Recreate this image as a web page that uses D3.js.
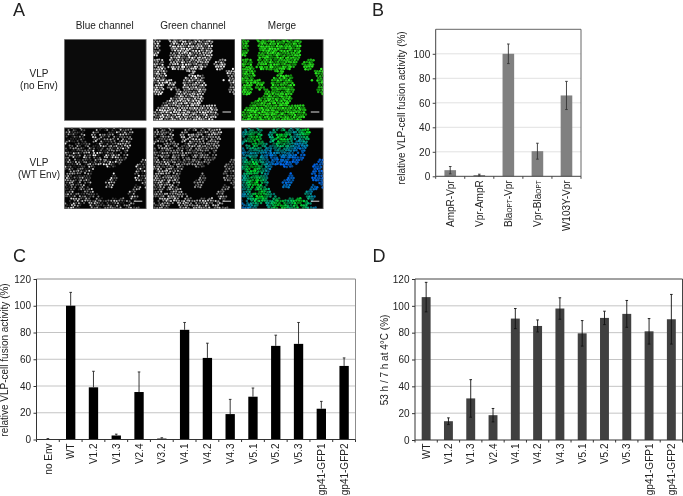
<!DOCTYPE html>
<html><head><meta charset="utf-8">
<script src="https://cdnjs.cloudflare.com/ajax/libs/d3/7.8.5/d3.min.js"></script>
<style>
html,body{margin:0;padding:0;background:#fff}
svg{display:block;filter:blur(.3px)}
text{font-family:"Liberation Sans",Arial,sans-serif;fill:#222}
</style></head><body>
<script>
// ---- panel B ----
const catsB=["AmpR-Vpr","Vpr-AmpR","BlaOPT-Vpr","Vpr-BlaOPT","W103Y-Vpr"];
const valsB=[5,1,100,20.5,66];
const errB=[3,0.7,8,6.5,11.5];
// ---- panel C ----
const catsC=["no Env","WT","V1.2","V1.3","V2.4","V3.2","V4.1","V4.2","V4.3","V5.1","V5.2","V5.3","gp41-GFP1","gp41-GFP2"];
const valsC=[0.3,100,39,3,35.5,0.7,82,61,19,32,70,71.5,23,55];
const errC=[0.4,10,12,1,15,0.6,5.5,11,11,6.5,8,16,5.5,6];
// ---- panel D ----
const catsD=["WT","V1.2","V1.3","V2.4","V4.1","V4.2","V4.3","V5.1","V5.2","V5.3","gp41-GFP1","gp41-GFP2"];
const valsD=[106.5,14,31,18.5,90.5,85,98,79.5,91,94,81,90];
const errD=[11,2.5,14,5,7.5,4.5,8,9.5,5,10,9.5,18.5];
const ticksB=[0,20,40,60,80,100];
const ticksCD=[0,20,40,60,80,100,120];
// ---- panel A: traced cell-colony outlines (0..244 image units) ----
const colonyNoEnv=[
 [[45,0],[180,0],[175,50],[160,85],[115,100],[85,95],[45,85],[50,50],[52,30]],
 [[0,0],[20,0],[22,35],[12,50],[0,50]],
 [[0,60],[25,55],[40,90],[40,125],[30,165],[0,165]],
 [[40,122],[55,118],[72,130],[68,148],[52,152],[40,140]],
 [[180,75],[195,55],[215,55],[218,85],[195,95]],
 [[215,95],[244,85],[244,165],[225,155],[230,130]],
 [[90,120],[115,100],[150,105],[160,140],[150,175],[140,195],[185,195],[195,225],[180,242],[0,242],[0,215],[30,190],[65,170],[70,145],[90,155]],
 [[198,142],[203,142],[203,148],[198,148]],
 [[210,118],[215,118],[215,124],[210,124]]
];
const colonyWT=[
 [[8,0],[60,0],[62,30],[77,50],[92,50],[80,30],[87,0],[207,0],[197,60],[182,95],[152,120],[117,115],[97,115],[77,140],[82,185],[122,215],[172,205],[192,215],[217,215],[207,230],[232,242],[77,242],[77,225],[52,225],[52,242],[0,242],[0,30]],
 [[122,160],[147,135],[162,145],[142,180],[122,180]],
 [[212,110],[244,85],[244,185],[227,160],[207,155]],
 [[187,195],[212,170],[227,175],[217,215],[192,215]]
];
const greenFoci=[[42,35],[120,30],[35,120],[42,165],[55,200],[172,222],[115,232],[200,8]];
const panelCols=[64.3,153,241.3];
const panelRows=[39.3,127.7];
const panelSize=[82,81.3];
const scaleBars=[[0,1],[1,0],[1,1],[2,0],[2,1]];

const W=683,H=496;
const svg=d3.select("body").append("svg").attr("width",W).attr("height",H).attr("viewBox",`0 0 ${W} ${H}`);
const defs=svg.append("defs");
defs.append("filter").attr("id","soft").attr("x","-5%").attr("y","-5%").attr("width","110%").attr("height","110%")
  .append("feGaussianBlur").attr("stdDeviation",0.4);

// letters
[["A",13,15.5],["B",372,15.5],["C",13,262],["D",372.5,262]].forEach(([t,x,y])=>
  svg.append("text").attr("x",x).attr("y",y).attr("font-size",18).text(t));

// headings
["Blue channel","Green channel","Merge"].forEach((t,i)=>
  svg.append("text").attr("x",[104.7,193,282][i]).attr("y",29).attr("text-anchor","middle").attr("font-size",10).text(t));
[["VLP",39,76.5],["(no Env)",39,89],["VLP",39,165.5],["(WT Env)",39,177.5]].forEach(([t,x,y])=>
  svg.append("text").attr("x",x).attr("y",y).attr("text-anchor","middle").attr("font-size",10).text(t));

// quasi-irregular texture for the micrographs (fixed, not data)
const frac=v=>v-Math.floor(v);
const su=d3.scaleLinear().domain([0,244]).range([0,panelSize[0]]);
const sv=d3.scaleLinear().domain([0,242]).range([0,panelSize[1]]);
function latticeIn(regions,keep){
  const pts=[],dx=7.8,dy=6.8;
  d3.range(0,Math.ceil(242/dy)+1).forEach(j=>d3.range(0,Math.ceil(244/dx)+1).forEach(i=>{
    const a=frac(i*i*.137+j*j*.271+i*j*.419), b=frac(i*.618+j*.754+i*j*.113), c=frac(i*.381*j+j*.577+i*.29);
    const p=[i*dx+(j%2?dx/2:0)+(a-.5)*2.5,j*dy+(b-.5)*2.5];
    if(c<keep&&regions.some(r=>d3.polygonContains(r,p)))
      pts.push({u:p[0],v:p[1],s:.35+.65*frac(a*7.3+b*3.1),
        g:d3.max(greenFoci,f=>Math.exp(-(((p[0]-f[0])**2+(p[1]-f[1])**2)/(42*42))))});
  }));
  return pts;
}
const noEnvCells=latticeIn(colonyNoEnv,1), wtCells=latticeIn(colonyWT,.88);
const gray=v=>{const c=Math.round(Math.min(255,v));return `rgb(${c},${c},${c})`;};
const colourers=[
 [null, c=>gray(c.s*265), c=>`rgb(${Math.round(45*c.s)},${Math.round(70+175*c.s)},${Math.round(35*c.s)})`],
 [c=>gray(c.s*c.s*(290-90*c.g)), c=>gray(c.s*(170+70*c.g)),
  c=>`rgb(0,${Math.round(55+c.s*(50+140*c.g))},${Math.round((1-.85*c.g)*(90+c.s*165))})`]
];
const cellR=[[0,1.1,1.25],[1.0,1.05,1.25]];
panelRows.forEach((y,r)=>panelCols.forEach((x,k)=>{
  const id=`clip${r}${k}`;
  defs.append("clipPath").attr("id",id).append("rect").attr("width",panelSize[0]).attr("height",panelSize[1]);
  const g=svg.append("g").attr("transform",`translate(${x},${y})`);
  g.append("rect").attr("width",panelSize[0]).attr("height",panelSize[1]).attr("fill",r===0&&k===0?"#0b0b0b":"#040404");
  const col=colourers[r][k];
  if(col){
    g.append("g").attr("clip-path",`url(#${id})`).append("g").attr("filter","url(#soft)")
     .selectAll("circle").data(r===0?noEnvCells:wtCells).join("circle")
     .attr("cx",d=>su(d.u)).attr("cy",d=>sv(d.v)).attr("r",cellR[r][k]).attr("fill",col);
  }
  if(scaleBars.some(b=>b[0]===k&&b[1]===r))
    g.append("line").attr("x1",panelSize[0]-12.5).attr("x2",panelSize[0]-4).attr("y1",r?73.5:72.7).attr("y2",r?73.5:72.7)
     .attr("stroke","#ddd").attr("stroke-width",1);
  g.append("rect").attr("x",.25).attr("y",.25).attr("width",panelSize[0]-.5).attr("height",panelSize[1]-.5)
   .attr("fill","none").attr("stroke","#8a8a8a").attr("stroke-width",.5);
}));

function barPanel(o){
  const {cats,vals,errs,x0,x1,y0,y1,domainMax,ticks,fill,grid,frame,frameSoft,pad,lower,barErr}=o;
  const x=d3.scaleBand().domain(cats).range([x0,x1]).paddingInner(pad).paddingOuter(pad/2);
  const y=d3.scaleLinear().domain([0,domainMax]).range([y0,y1]);
  const g=svg.append("g");
  g.selectAll("line.grid").data(ticks.filter(t=>t>0&&t<domainMax)).join("line").attr("class","grid")
    .attr("x1",x0).attr("x2",x1).attr("y1",d=>y(d)).attr("y2",d=>y(d)).attr("stroke",grid).attr("stroke-width",1);
  g.append("line").attr("x1",x0).attr("x2",x1).attr("y1",y1).attr("y2",y1).attr("stroke",frameSoft).attr("stroke-width",1);
  g.append("line").attr("x1",x1).attr("x2",x1).attr("y1",y1).attr("y2",y0).attr("stroke",frameSoft).attr("stroke-width",1);
  g.selectAll("rect.bar").data(cats).join("rect").attr("class","bar")
    .attr("x",d=>x(d)).attr("width",x.bandwidth())
    .attr("y",(d,i)=>y(vals[i])).attr("height",(d,i)=>y(0)-y(vals[i])).attr("fill",fill);
  const cx=d=>x(d)+x.bandwidth()/2, cap=1.3;
  const top=(i)=>y(vals[i]+errs[i]), bot=(i)=>lower?y(Math.max(0,vals[i]-errs[i])):y(vals[i]);
  const e=g.append("g").attr("stroke",barErr).attr("stroke-width",.9).attr("fill","none");
  e.selectAll("line.s").data(cats).join("line").attr("class","s")
    .attr("x1",cx).attr("x2",cx).attr("y1",(d,i)=>top(i)).attr("y2",(d,i)=>bot(i));
  e.selectAll("line.t").data(cats).join("line").attr("class","t")
    .attr("x1",d=>cx(d)-cap).attr("x2",d=>cx(d)+cap).attr("y1",(d,i)=>top(i)).attr("y2",(d,i)=>top(i));
  if(lower) e.selectAll("line.b").data(cats).join("line").attr("class","b")
    .attr("x1",d=>cx(d)-cap).attr("x2",d=>cx(d)+cap).attr("y1",(d,i)=>bot(i)).attr("y2",(d,i)=>bot(i));
  const ay=g.append("g").attr("transform",`translate(${x0},0)`).call(d3.axisLeft(y).tickValues(ticks).tickSize(3).tickSizeOuter(0));
  ay.select(".domain").attr("stroke",frame).attr("d",`M0,${y0}V${y1}`);
  ay.selectAll("line").attr("stroke",frame);
  ay.selectAll("text").attr("font-size",10).attr("font-family",null).attr("fill","#222").attr("dx",".05em");
  const ax=g.append("g").attr("transform",`translate(0,${y0})`).call(d3.axisBottom(x).tickSize(0).tickSizeOuter(0));
  ax.select(".domain").attr("stroke",frame).attr("d",`M${x0},0H${x1}`);
  ax.selectAll("text").attr("font-size",10).attr("font-family",null).attr("fill","#222")
    .attr("text-anchor","end").attr("transform","rotate(-90)").attr("x",-o.labelGap).attr("y",0).attr("dy",".36em")
    .each(function(d){
      const m=/^(.*?)OPT(.*)$/.exec(d);
      if(!m) return;
      const t=d3.select(this).text(null);
      t.append("tspan").text(m[1]);
      t.append("tspan").attr("font-size",6.5).text("OPT");
      t.append("tspan").text(m[2]);
    });
  ax.selectAll("line.edge").data(d3.range(cats.length+1)).join("line").attr("class","edge")
    .attr("x1",i=>x0+i*(x1-x0)/cats.length).attr("x2",i=>x0+i*(x1-x0)/cats.length)
    .attr("y1",0).attr("y2",2.5).attr("stroke",frame);
  svg.append("text").attr("transform",`translate(${o.titleX},${o.titleY}) rotate(-90)`)
    .attr("text-anchor","middle").attr("font-size",o.titleSize).text(o.title);
}

barPanel({cats:catsB,vals:valsB,errs:errB,x0:435.7,x1:581,y0:176.3,y1:29.3,domainMax:120,ticks:ticksB,
  fill:"#808080",grid:"#e2e2e2",frame:"#444",frameSoft:"#666",pad:.6,lower:true,barErr:"#333",labelGap:4,
  title:"relative VLP-cell fusion activity (%)",titleX:404.5,titleY:108,titleSize:10});
barPanel({cats:catsC,vals:valsC,errs:errC,x0:36.5,x1:355.5,y0:439.5,y1:279,domainMax:120,ticks:ticksCD,
  fill:"#000",grid:"#c4c4c4",frame:"#333",frameSoft:"#8c8c8c",pad:.59,lower:false,barErr:"#222",labelGap:4,
  title:"relative VLP-cell fusion activity (%)",titleX:8,titleY:360,titleSize:10});
barPanel({cats:catsD,vals:valsD,errs:errD,x0:415,x1:682.5,y0:440,y1:279,domainMax:120,ticks:ticksCD,
  fill:"#404040",grid:"#c4c4c4",frame:"#333",frameSoft:"#444",pad:.6,lower:true,barErr:"#111",labelGap:3.5,
  title:"53 h / 7 h at 4°C (%)",titleX:387.5,titleY:360,titleSize:10});
</script>
</body></html>
